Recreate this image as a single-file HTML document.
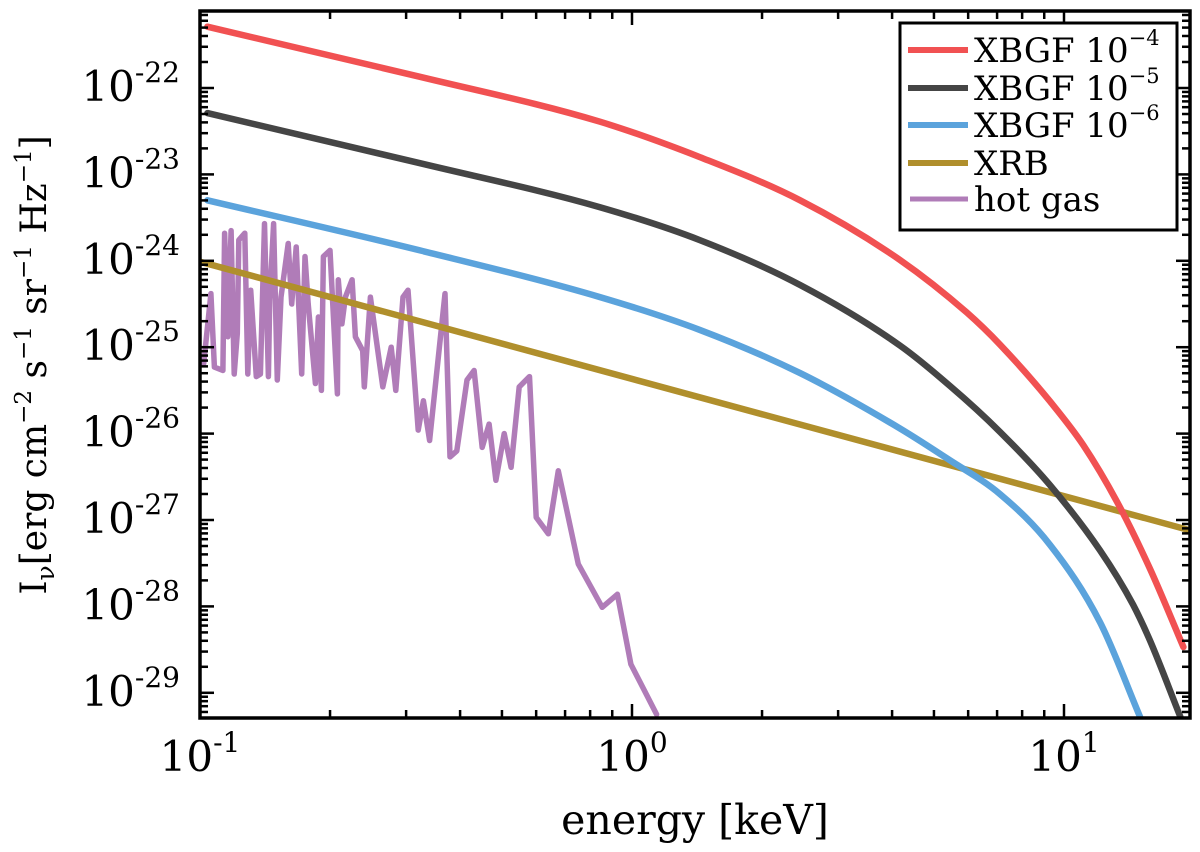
<!DOCTYPE html>
<html><head><meta charset="utf-8"><style>
html,body{margin:0;padding:0;background:#fff;}
svg{display:block;font-family:"DejaVu Serif","Liberation Serif",serif;}
</style></head><body>
<svg id="chart" width="1200" height="852" viewBox="0 0 1200 852" xmlns="http://www.w3.org/2000/svg">
<g id="plot"></g>
<g id="axes"></g>
<text x="695" y="834" font-size="41" text-anchor="middle">energy [keV]</text>
<text transform="translate(46,365) rotate(-90)" font-size="36" text-anchor="middle">I<tspan font-size="25" dy="8">ν</tspan><tspan dy="-8">[erg cm</tspan><tspan font-size="23" dy="-15">−2</tspan><tspan dy="15"> s</tspan><tspan font-size="23" dy="-15">−1</tspan><tspan dy="15"> sr</tspan><tspan font-size="23" dy="-15">−1</tspan><tspan dy="15"> Hz</tspan><tspan font-size="23" dy="-15">−1</tspan><tspan dy="15">]</tspan></text>
<g>
<rect x="900" y="23" width="277" height="207" fill="#fff" stroke="#000" stroke-width="3"/>
<line x1="908" y1="50" x2="968" y2="50" stroke="#f15152" stroke-width="6"/>
<text x="974" y="62" font-size="34">XBGF 10<tspan font-size="21" dy="-17">−4</tspan></text>
<line x1="908" y1="88" x2="968" y2="88" stroke="#454545" stroke-width="6"/>
<text x="974" y="100" font-size="34">XBGF 10<tspan font-size="21" dy="-17">−5</tspan></text>
<line x1="908" y1="125" x2="968" y2="125" stroke="#5ba3dc" stroke-width="6"/>
<text x="974" y="137" font-size="34">XBGF 10<tspan font-size="21" dy="-17">−6</tspan></text>
<line x1="908" y1="163" x2="968" y2="163" stroke="#b08f2c" stroke-width="6"/>
<text x="974" y="175" font-size="34">XRB</text>
<line x1="910" y1="199" x2="968" y2="199" stroke="#b07cb8" stroke-width="5"/>
<text x="974" y="211" font-size="34">hot gas</text>
</g>
</svg>
<script>
// energies (keV) and log10 intensity exponents
const redE=[0.104,0.323,0.843,1.435,2.45,4.17,5.96,7.11,9.29,11.07,13.27,15.8,18.9];
const redLogI=[-21.29,-21.87,-22.39,-22.80,-23.30,-23.99,-24.60,-24.97,-25.63,-26.13,-26.79,-27.56,-28.47];
const blackE=[0.104,0.323,0.843,1.435,2.45,4.17,5.45,7.11,9.29,12.11,14.45,15.8,18.6];
const blackLogI=[-22.29,-22.87,-23.38,-23.76,-24.28,-24.98,-25.45,-25.98,-26.60,-27.35,-27.98,-28.39,-29.28];
const blueE=[0.104,0.323,0.843,1.435,2.45,4.17,5.45,7.11,9.29,12.11,15.0];
const blueLogI=[-23.30,-23.88,-24.42,-24.80,-25.30,-25.94,-26.31,-26.70,-27.29,-28.18,-29.28];
const xrbE=[0.1,19.6];
const xrbLogI=[-24.01,-27.12];
const gasE=[0.100,0.102,0.106,0.108,0.113,0.114,0.116,0.118,0.120,0.122,0.123,0.127,0.129,0.131,0.135,0.138,0.141,0.144,0.145,0.148,0.151,0.154,0.160,0.163,0.167,0.172,0.175,0.178,0.185,0.188,0.191,0.193,0.200,0.208,0.209,0.213,0.217,0.225,0.229,0.238,0.240,0.248,0.265,0.277,0.284,0.295,0.303,0.320,0.329,0.340,0.369,0.379,0.393,0.415,0.431,0.450,0.467,0.484,0.506,0.525,0.548,0.579,0.600,0.640,0.675,0.751,0.853,0.925,0.994,1.07,1.14];
const gasLogI=[-25.11,-25.19,-24.38,-25.23,-25.27,-23.68,-24.88,-23.65,-25.31,-24.84,-23.76,-23.68,-25.31,-24.34,-25.34,-25.31,-23.57,-25.34,-24.46,-23.57,-25.38,-24.42,-23.80,-24.50,-23.84,-25.31,-23.95,-24.50,-25.42,-24.65,-25.50,-23.95,-23.88,-25.54,-24.22,-24.73,-24.42,-24.22,-24.88,-25.04,-25.46,-24.42,-25.46,-25.00,-25.50,-24.42,-24.34,-25.96,-25.62,-26.08,-24.38,-26.27,-26.20,-25.38,-25.27,-26.16,-25.89,-26.54,-26.00,-26.39,-25.46,-25.34,-26.97,-27.16,-26.43,-27.51,-28.01,-27.86,-28.67,-28.98,-29.25];
const xTickLabels=["-1","0","1"];
const yTickLabels=["-22","-23","-24","-25","-26","-27","-28","-29"];

const L=200,R=1190,T=11,B=718;
const xs=E=>L+(Math.log10(E)+1)*432;
const ys=l=>88+(-22-l)*86.4;
const NS="http://www.w3.org/2000/svg";
const plot=document.getElementById('plot'),axes=document.getElementById('axes');
function mk(tag,attrs,parent){const e=document.createElementNS(NS,tag);for(const k in attrs)e.setAttribute(k,attrs[k]);parent.appendChild(e);return e;}
const defs=mk('defs',{},plot);
const cp=mk('clipPath',{id:'clip'},defs);
mk('rect',{x:L,y:T,width:R-L,height:B-T},cp);
const g=mk('g',{'clip-path':'url(#clip)'},plot);
function smoothPath(E,V){
  const X=E.map(xs),Y=V.map(ys),n=X.length;
  let d='M'+X[0].toFixed(1)+' '+Y[0].toFixed(1);
  if(n<3){for(let i=1;i<n;i++)d+=' L'+X[i].toFixed(1)+' '+Y[i].toFixed(1);return d;}
  const s=[];for(let i=0;i<n-1;i++)s.push((Y[i+1]-Y[i])/(X[i+1]-X[i]));
  const m=[s[0]];
  for(let i=1;i<n-1;i++){m.push(s[i-1]*s[i]<=0?0:(s[i-1]+s[i])/2);}
  m.push(s[n-2]);
  for(let i=0;i<n-1;i++){
    const h=(X[i+1]-X[i])/3;
    d+=' C'+(X[i]+h).toFixed(1)+' '+(Y[i]+m[i]*h).toFixed(1)+' '+(X[i+1]-h).toFixed(1)+' '+(Y[i+1]-m[i+1]*h).toFixed(1)+' '+X[i+1].toFixed(1)+' '+Y[i+1].toFixed(1);
  }
  return d;
}
function series(E,V,color,w,name,smooth){
  const d=smooth?smoothPath(E,V):E.map((e,i)=>(i?'L':'M')+xs(e).toFixed(1)+' '+ys(V[i]).toFixed(1)).join(' ');
  const p=mk('path',{d:d,fill:'none',stroke:color,'stroke-width':w,'stroke-linejoin':'round','stroke-linecap':'round'},g);
  
  
}
series(gasE,gasLogI,'#b07cb8',5.5,'hot-gas-line',false);
series(xrbE,xrbLogI,'#b08f2c',6.5,'xrb-line',true);
series(blueE,blueLogI,'#5ba3dc',6.5,'xbgf-1e-6-line',true);
series(blackE,blackLogI,'#454545',6.5,'xbgf-1e-5-line',true);
series(redE,redLogI,'#f15152',6.5,'xbgf-1e-4-line',true);
const fr=mk('rect',{x:L,y:T,width:R-L,height:B-T,fill:'none',stroke:'#000','stroke-width':3.5},axes);


for(let dec=-1;dec<=1;dec++){
  for(let m=1;m<=9;m++){
    const x=xs(m*Math.pow(10,dec));
    if(x>R)continue;
    const len=m===1?14:8;
    mk('line',{x1:x,y1:B,x2:x,y2:B-len,stroke:'#000','stroke-width':2.5},axes);
    mk('line',{x1:x,y1:T,x2:x,y2:T+len,stroke:'#000','stroke-width':2.5},axes);
  }
}
xTickLabels.forEach((lab,i)=>{
  const x=xs(Math.pow(10,i-1));
  const t=mk('text',{x:x,y:771,'font-size':42,'text-anchor':'middle'},axes);
  
  
  t.innerHTML='10<tspan font-size="28" dy="-19">'+lab+'</tspan>';
});
for(let dec=-30;dec<=-21;dec++){
  for(let m=1;m<=9;m++){
    const y=ys(dec+Math.log10(m));
    if(y<T||y>B)continue;
    const len=m===1?14:8;
    mk('line',{x1:L,y1:y,x2:L+len,y2:y,stroke:'#000','stroke-width':2.5},axes);
    mk('line',{x1:R,y1:y,x2:R-len,y2:y,stroke:'#000','stroke-width':2.5},axes);
  }
}
yTickLabels.forEach((lab,i)=>{
  const y=ys(-22-i);
  const t=mk('text',{x:180,y:y+13,'font-size':42,'text-anchor':'end'},axes);
  
  
  t.innerHTML='10<tspan font-size="28" dy="-19">'+lab+'</tspan>';
});
</script>
</body></html>
